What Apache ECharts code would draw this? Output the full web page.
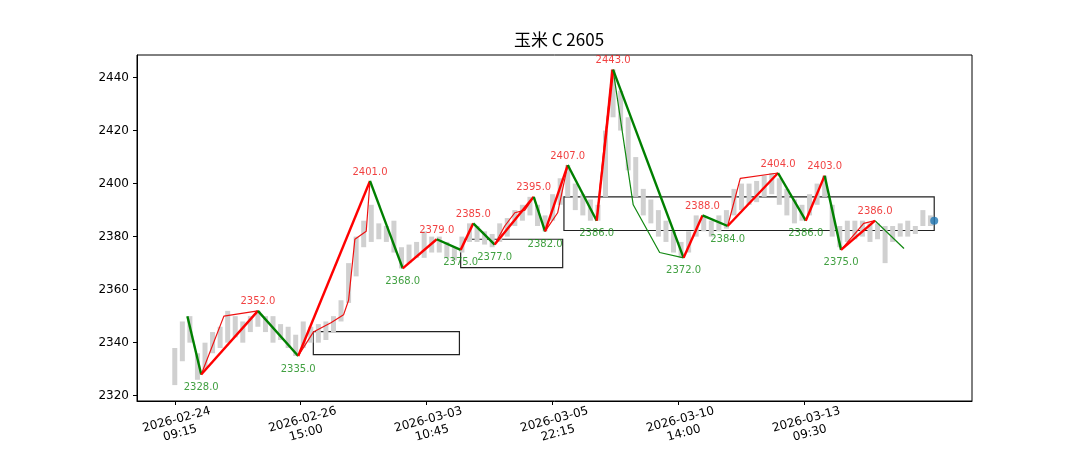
<!DOCTYPE html>
<html><head><meta charset="utf-8">
<script src="https://cdn.jsdelivr.net/npm/echarts@6/dist/echarts.min.js"></script>
<style>html,body{margin:0;padding:0;background:#fff}#c{width:1080px;height:450px}</style>
</head><body><div id="c"></div>
<script>
const tickIdx = [0,100,200,300,400,500];
const tickLabels = ['2026-02-24\n09:15','2026-02-26\n15:00','2026-03-03\n10:45','2026-03-05\n22:15','2026-03-10\n14:00','2026-03-13\n09:30'];
const yTicks = [2320,2340,2360,2380,2400,2420,2440];
// gray price bars: index, low, high
const barIdx = [];
for (let i = 0; i <= 600; i += 6) barIdx.push(i);
const barLow = [2324,2333,2340,2326,2330,2336,2338,2340,2342,2340,2344,2346,2344,2340,2341,2338,2335,2338,2340,2340,2341,2344,2348,2355,2365,2376,2378,2379,2378,2374,2368,2370,2372,2372,2374,2374,2372,2371,2374,2378,2378,2377,2376,2378,2380,2384,2386,2388,2384,2382,2386,2392,2395,2390,2388,2386,2386,2395,2425,2420,2405,2395,2388,2385,2380,2378,2374,2372,2374,2380,2382,2380,2382,2383,2388,2390,2392,2393,2395,2396,2392,2388,2385,2386,2388,2392,2395,2380,2376,2378,2379,2380,2378,2379,2370,2378,2380,2380,2381,2384,2384];
const barHigh = [2338,2348,2350,2336,2340,2344,2346,2352,2350,2348,2350,2352,2350,2350,2347,2346,2343,2348,2346,2347,2348,2350,2356,2370,2380,2386,2392,2385,2384,2386,2376,2377,2378,2382,2380,2380,2378,2376,2380,2385,2384,2382,2381,2385,2387,2390,2392,2395,2392,2388,2396,2402,2407,2400,2396,2394,2392,2420,2443,2435,2425,2410,2398,2394,2390,2386,2382,2378,2382,2388,2388,2386,2388,2390,2398,2400,2400,2401,2403,2404,2402,2398,2394,2392,2396,2400,2403,2392,2384,2386,2386,2386,2385,2385,2384,2384,2385,2386,2384,2390,2388];
// main strokes
const strokeIdx = [10,21,66,98,155,181,208,227,237,254,285,294,312,335,348,404,419,439,479,501,516,529,556];
const strokeVal = [2350,2328,2352,2335,2401,2368,2379,2375,2385,2377,2395,2382,2407,2386,2443,2372,2388,2384,2404,2386,2403,2375,2386];
// sub strokes (thin)
const subUp = [
  [[21,2328],[39,2350],[66,2352]],
  [[98,2335],[110,2344],[124,2347.5],[134,2350.5],[138,2356],[143,2379],[152,2382],[155,2401]],
  [[254,2377],[262,2384],[270,2389],[278,2390],[285,2395]],
  [[294,2382],[304,2389],[312,2407]],
  [[335,2386],[347,2443]],
  [[439,2384],[449,2402],[479,2404]],
  [[529,2375],[547,2385],[556,2386]]
];
const subDown = [
  [[348,2443],[364,2392],[385,2374],[404,2372]],
  [[556,2386],[579,2375.5]]
];
// pivot boxes
const boxX1 = [110,227,309], boxX2 = [226,308,603];
const boxLow = [2335.5,2368.3,2382.3], boxHigh = [2344.2,2379,2395];
const lastPt = [603,2386];

const series = [];
series.push({type:'custom', z:1, data: barIdx.map((x,i)=>[x,barLow[i],barHigh[i]]),
  renderItem:(p,api)=>{const a=api.coord([api.value(0),api.value(1)]),b=api.coord([api.value(0),api.value(2)]);
    const w=5;
    return {type:'rect',shape:{x:a[0]-w/2,y:b[1],width:w,height:Math.max(a[1]-b[1],1.5)},style:{fill:'#d0d0d0'}};}});
series.push({type:'line', z:2, data:[], markArea:{silent:true,itemStyle:{color:'rgba(0,0,0,0)',borderColor:'#222',borderWidth:1.2},
  data: boxX1.map((x,i)=>[{coord:[x,boxLow[i]]},{coord:[boxX2[i],boxHigh[i]]}])}});
subUp.forEach(s=>series.push({type:'line',z:3,data:s,symbol:'none',lineStyle:{color:'#ee1111',width:1.2}}));
subDown.forEach(s=>series.push({type:'line',z:3,data:s,symbol:'none',lineStyle:{color:'#118811',width:1.2}}));
for (let i=0;i<strokeIdx.length-1;i++){
  const up = strokeVal[i+1]>strokeVal[i];
  series.push({type:'line',z:4,data:[[strokeIdx[i],strokeVal[i]],[strokeIdx[i+1],strokeVal[i+1]]],symbol:'none',
    lineStyle:{color:up?'#ff0000':'#008000',width:2.4}});
}
const labelPts = strokeIdx.map((x,i)=>[x,strokeVal[i]]).slice(1);
series.push({type:'scatter',z:5,symbolSize:0,data:labelPts.map((p,k)=>{
  const i=k+1; const high = i===strokeVal.length-1 ? true : strokeVal[i]>strokeVal[i-1];
  return {value:p,label:{show:true,formatter:p[1].toFixed(1),position:high?'top':'bottom',distance:high?4:8,
    color:high?'#ee1111':'#118811',fontSize:10,fontFamily:'DejaVu Sans'}};})});
series.push({type:'scatter',z:6,data:[lastPt],symbolSize:8,itemStyle:{color:'#1f77b4'}});

const chart = echarts.init(document.getElementById('c'));
chart.setOption({
  animation:false,
  title:{text:'玉米 C 2605',left:554,top:26,textAlign:'center',textStyle:{fontFamily:'Noto Sans CJK SC',fontSize:17,fontWeight:'normal',color:'#000'}},
  grid:{left:137,right:108,top:55,bottom:49,show:true,borderColor:'#000',borderWidth:1},
  xAxis:{type:'value',min:-30,max:633,axisLine:{show:true,onZero:false,lineStyle:{color:'#000'}},splitLine:{show:false},
    axisTick:{show:true,customValues:tickIdx,length:4,lineStyle:{color:'#000'}},
    axisLabel:{customValues:tickIdx,rotate:15,align:'center',verticalAlign:'top',color:'#000',fontSize:12,fontFamily:'DejaVu Sans',lineHeight:14,margin:12,
      formatter:v=>tickLabels[tickIdx.indexOf(v)]||''}},
  yAxis:{type:'value',min:2318,max:2448.5,axisLine:{show:true,onZero:false,lineStyle:{color:'#000'}},splitLine:{show:false},
    axisTick:{show:true,customValues:yTicks,length:4,lineStyle:{color:'#000'}},
    axisLabel:{customValues:yTicks,color:'#000',fontSize:12,fontFamily:'DejaVu Sans',formatter:v=>String(v)}},
  series
});
</script></body></html>
